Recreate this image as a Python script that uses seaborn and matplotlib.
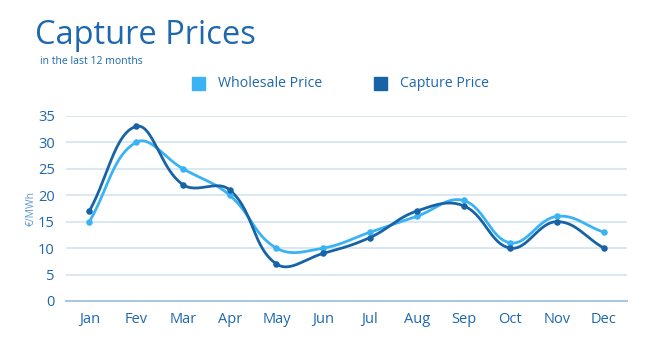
import numpy as np
import pandas as pd
import matplotlib
matplotlib.use("Agg")
import matplotlib.pyplot as plt
import seaborn as sns

months = ["Jan", "Fev", "Mar", "Apr", "May", "Jun", "Jul", "Aug", "Sep", "Oct", "Nov", "Dec"]
wholesale = [15, 30, 25, 20, 10, 10, 13, 16, 19, 11, 16, 13]
capture = [17, 33, 22, 21, 7, 9, 12, 17, 18, 10, 15, 10]
yticks = [0, 5, 10, 15, 20, 25, 30, 35]

C_LIGHT = "#3AB3F4"
C_DARK = "#1763A6"
C_TEXT = "#1E68AE"
C_GRID = "#CFE1F1"

sns.set_theme(style="white")
plt.rcParams['font.family'] = ['Open Sans', 'DejaVu Sans']

fig = plt.figure(figsize=(6.5, 3.5), dpi=100)
ax = fig.add_axes([0.1015, 0.14, 0.8635, 0.529])

XS, YS = 46.6, 5.29  # approx pixel scale per unit


def spline(xs, ys, t=0.4, n=30):
    px = np.asarray(xs, float) * XS
    py = np.asarray(ys, float) * YS
    m = len(px)
    cps = []
    for i in range(m):
        p0 = (px[max(i - 1, 0)], py[max(i - 1, 0)])
        p1 = (px[i], py[i])
        p2 = (px[min(i + 1, m - 1)], py[min(i + 1, m - 1)])
        d01 = np.hypot(p1[0] - p0[0], p1[1] - p0[1])
        d12 = np.hypot(p2[0] - p1[0], p2[1] - p1[1])
        tot = d01 + d12 if d01 + d12 > 0 else 1
        s01, s12 = d01 / tot, d12 / tot
        fa, fb = t * s01, t * s12
        cp_prev = (p1[0] - fa * (p2[0] - p0[0]), p1[1] - fa * (p2[1] - p0[1]))
        cp_next = (p1[0] + fb * (p2[0] - p0[0]), p1[1] + fb * (p2[1] - p0[1]))
        cps.append((cp_prev, cp_next))
    out_x, out_y = [], []
    u = np.linspace(0, 1, n)
    for i in range(m - 1):
        P0 = np.array([px[i], py[i]])
        P1 = np.array(cps[i][1])
        P2 = np.array(cps[i + 1][0])
        P3 = np.array([px[i + 1], py[i + 1]])
        B = ((1 - u) ** 3)[:, None] * P0 + (3 * (1 - u) ** 2 * u)[:, None] * P1 \
            + (3 * (1 - u) * u ** 2)[:, None] * P2 + (u ** 3)[:, None] * P3
        out_x.extend(B[:, 0] / XS)
        out_y.extend(B[:, 1] / YS)
    return np.array(out_x), np.array(out_y)


xi = np.arange(len(months))
for vals, col, lab in [(wholesale, C_LIGHT, "Wholesale Price"), (capture, C_DARK, "Capture Price")]:
    sx, sy = spline(xi, vals)
    ax.plot(sx, sy, color=col, lw=2, solid_capstyle="round", zorder=3, clip_on=False)
    df = pd.DataFrame({"x": xi, "y": vals})
    sns.scatterplot(data=df, x="x", y="y", ax=ax, color=col, s=22, edgecolor=col,
                    linewidth=0, zorder=4, clip_on=False, legend=False)

ax.set_xlim(-0.5, 11.5)
ax.set_ylim(0, 35)
ax.set_yticks(yticks)
ax.set_xticks(xi)
ax.set_xticklabels(months)
ax.set_xlabel("")
ax.set_ylabel("€/MWh", color="#5C9BD1", fontsize=7.5, labelpad=1)
for s in ["top", "right", "left"]:
    ax.spines[s].set_visible(False)
ax.spines["bottom"].set_color("#A9C8E6")
ax.spines["bottom"].set_linewidth(1.5)
ax.grid(axis="y", color=C_GRID, lw=1.1, zorder=0)
ax.set_axisbelow(True)
ax.tick_params(axis="both", length=0, labelcolor=C_TEXT, labelsize=10.5)
ax.tick_params(axis="x", pad=8)
ax.tick_params(axis="y", pad=8)

fig.text(35 / 650, 1 - 35 / 350, "Capture Prices", color=C_TEXT, fontsize=23.5, va="center", ha="left")
fig.text(40 / 650, 1 - 61 / 350, "in the last 12 months", color=C_TEXT, fontsize=7.5, va="center", ha="left")

# legend
for xp, col, lab in [(198, C_LIGHT, "Wholesale Price"), (380, C_DARK, "Capture Price")]:
    fig.patches.append(matplotlib.patches.Rectangle(((xp - 6) / 650, 1 - 90 / 350), 13 / 650, 13 / 350,
                                                    transform=fig.transFigure, color=col, figure=fig))
    fig.text((xp + 20) / 650, 1 - 83.5 / 350, lab, color=C_TEXT, fontsize=10.2, va="center", ha="left")

fig.savefig("out.png", dpi=100, facecolor="white")
